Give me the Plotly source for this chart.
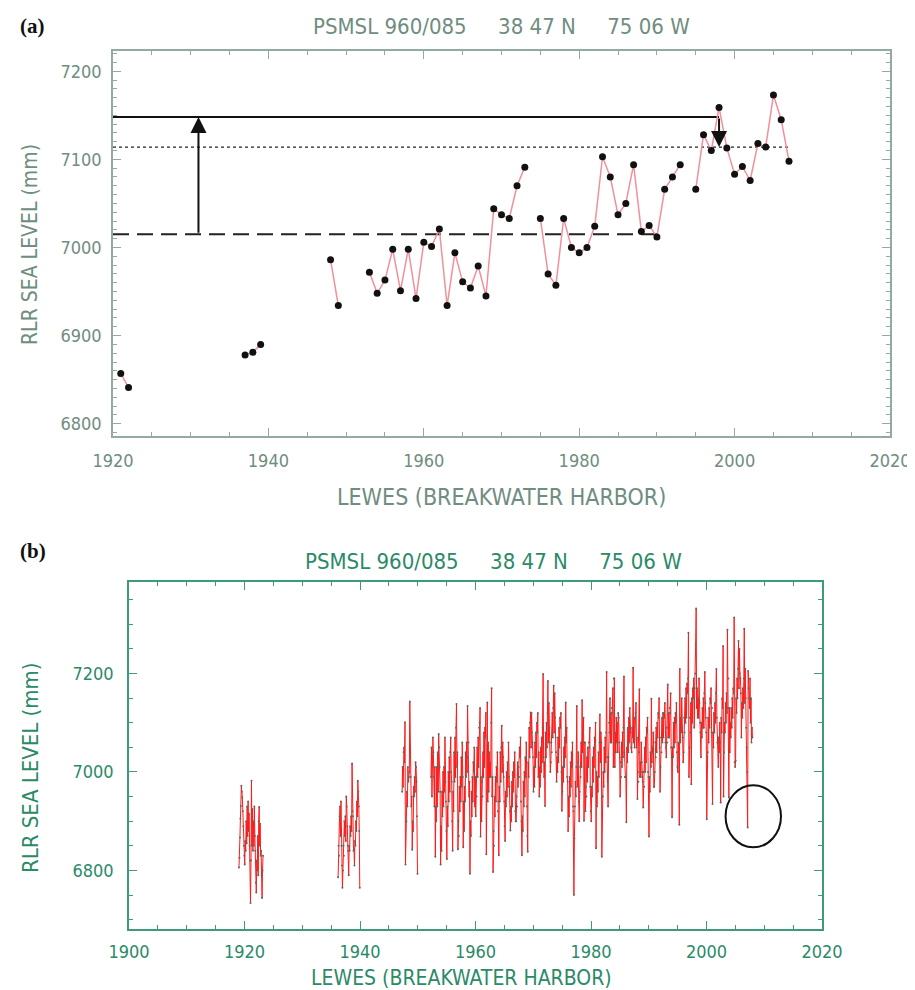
import plotly.graph_objects as go

# ---------------- Panel (a): annual mean sea level (mm) ----------------
annual_years = [1921, 1922, 1937, 1938, 1939, 1948, 1949,
                1953, 1954, 1955, 1956, 1957, 1958, 1959, 1960, 1961, 1962,
                1963, 1964, 1965, 1966, 1967, 1968, 1969, 1970, 1971, 1972, 1973,
                1975, 1976, 1977, 1978, 1979, 1980, 1981, 1982, 1983, 1984,
                1985, 1986, 1987, 1988, 1989, 1990, 1991, 1992, 1993,
                1995, 1996, 1997, 1998, 1999, 2000, 2001, 2002, 2003, 2004,
                2005, 2006, 2007]
annual_mm = [6857, 6841, 6878, 6881, 6890, 6986, 6934,
             6972, 6948, 6963, 6998, 6951, 6998, 6942, 7006, 7001, 7021,
             6934, 6994, 6961, 6954, 6979, 6945, 7044, 7037, 7033, 7070, 7091,
             7033, 6970, 6957, 7033, 7000, 6994, 7000, 7024, 7103, 7080,
             7037, 7050, 7094, 7018, 7025, 7012, 7066, 7080, 7094,
             7066, 7128, 7110, 7159, 7113, 7083, 7092, 7076, 7118, 7114,
             7173, 7145, 7098]

# reference levels drawn in panel (a)
dashed_level, dashed_end = 7015, 1990
solid_level, solid_end = 7148, 1998
dotted_level, dotted_end = 7114, 2007
up_arrow_year = 1931
down_arrow_year = 1998

# ---------------- Panel (b): monthly mean sea level (mm) ----------------
seg1_start = (1919, 1)
monthly_1919_1923 = [
    6806, 6826, 6867, 6905, 6931, 6972, 6960, 6948, 6920, 6890, 6850, 6830,
    6812, 6860, 6840, 6900, 6855, 6930, 6870, 6940, 6880, 6915, 6850, 6820,
    6734, 6820, 6982, 6850, 6925, 6840, 6900, 6850, 6930, 6870, 6840, 6775,
    6755, 6820, 6800, 6870, 6790, 6900, 6929, 6850, 6895, 6830, 6840, 6790,
    6744, 6800, 6830]
seg2_start = (1936, 3)
monthly_1936_1939 = [
    6786, 6850, 6830, 6910, 6930, 6870, 6940, 6850, 6810, 6765,
    6800, 6850, 6830, 6900, 6870, 6910, 6860, 6950, 6930, 6890, 6850, 6840,
    6790, 6850, 6840, 6890, 6870, 6910, 6880, 7017, 6920, 6910, 6840, 6845,
    6810, 6860, 6850, 6900, 6880, 6940, 6910, 6982, 6960, 6930, 6880, 6765]
seg3_start = (1947, 4)
monthly_1947_1949 = [
    6960, 7010, 6970, 7040, 7050, 7020, 7101, 6812, 6900,
    6900, 6960, 6930, 7010, 6980, 6990, 7000, 7143, 7030, 6990, 6930, 6950,
    6842, 6900, 6880, 6970, 6950, 6990, 6960, 7020, 7010, 6980, 6910, 6793]
seg4_start = (1952, 4)
monthly_1952_1959 = [
    6990, 7050, 6950, 7030, 7070, 7040, 6990, 6930, 7010,
    6828, 6930, 6900, 7010, 6930, 7040, 6960, 7077, 7050, 7010, 6960, 6812,
    6890, 6840, 6960, 6910, 7000, 6930, 7010, 6960, 7070, 6980, 6940, 6880,
    6823, 6930, 6890, 7000, 6940, 7030, 6960, 7040, 7070, 7000, 6980, 6900,
    6840, 6960, 6920, 7040, 6980, 7070, 6990, 7090, 7138, 7010, 7040, 6843,
    6900, 6870, 6970, 6920, 6990, 6940, 7030, 6970, 7060, 6990, 6847, 6940,
    6880, 6970, 6940, 7040, 6990, 7060, 7000, 7134, 7030, 7060, 6950, 6980,
    6793, 6900, 6870, 6960, 6910, 6990, 6940, 7020, 7000, 7050, 6930, 6990]
monthly_1960_1969 = [
    6910, 6990, 6950, 7050, 6990, 7070, 7010, 7090, 7100, 7130, 6869, 6990,
    6900, 6980, 6950, 7040, 6990, 7080, 7010, 7090, 7070, 7120, 6833, 6960,
    7141, 6940, 7060, 6960, 7040, 6990, 7020, 6990, 7100, 7170, 6950, 6990,
    6797, 6880, 6850, 6950, 6910, 6990, 6940, 7010, 6980, 7040, 6920, 6940,
    6831, 6970, 6940, 7040, 6980, 7050, 7094, 7000, 7060, 7030, 6990, 6940,
    6890, 6860, 6960, 6930, 7000, 6950, 7020, 6970, 7060, 6990, 6970, 6920,
    6881, 6930, 6900, 6980, 6930, 7000, 6960, 7020, 6990, 7040, 6920, 6900,
    6900, 6950, 6930, 7020, 6970, 7010, 6990, 7050, 7030, 7070, 6940, 6900,
    6831, 6910, 6880, 6980, 6930, 7000, 6950, 7030, 6990, 7060, 6930, 6870,
    6838, 7020, 6990, 7090, 7030, 7100, 7121, 7050, 7120, 7080, 7060, 7030]
monthly_1970_1979 = [
    6960, 7010, 6970, 7060, 7010, 7080, 7030, 7100, 7080, 7120, 6990, 7040,
    6950, 7010, 6970, 7050, 7000, 7070, 7020, 7090, 7199, 7030, 6990, 7020,
    6931, 7080, 7030, 7100, 7050, 7120, 7185, 7060, 7140, 7090, 7060, 7000,
    7020, 7060, 7040, 7120, 7070, 7130, 7175, 7080, 7160, 7110, 7070, 7040,
    6980, 7030, 7000, 7070, 7020, 7090, 7050, 7110, 7090, 7120, 7000, 6921,
    6960, 7010, 6980, 7050, 7010, 7070, 7030, 7141, 7060, 7090, 6990, 6980,
    6880, 6950, 6910, 6990, 6950, 7020, 6970, 7040, 7010, 7060, 6930, 6920,
    6750, 6865, 6930, 6980, 6950, 7010, 7134, 6970, 7020, 7040, 6940, 6900,
    6960, 7010, 6990, 7060, 7010, 7146, 7040, 7080, 7110, 6901, 7060, 7060,
    6920, 6970, 6950, 7030, 6980, 7050, 7010, 7060, 7050, 7090, 6970, 6920]
monthly_1980_1989 = [
    6900, 6970, 6950, 7030, 6980, 7050, 7010, 7070, 7060, 7100, 6845, 7000,
    6930, 6990, 6960, 7040, 6990, 7060, 7117, 7020, 7080, 7060, 6828, 6950,
    6950, 7000, 6970, 7050, 7000, 7070, 7020, 7080, 7203, 7030, 6980, 6930,
    7030, 7100, 7080, 7150, 7060, 7120, 7060, 7130, 7120, 7170, 7010, 7190,
    7190, 7010, 7080, 7040, 7110, 7060, 7100, 7040, 7120, 7110, 7060, 7030,
    6950, 7020, 6990, 7060, 7010, 7080, 7030, 7090, 7194, 7040, 6990, 6990,
    6990, 6898, 7050, 7020, 7090, 7040, 7110, 7060, 7130, 7090, 7080, 7050,
    7040, 7090, 7070, 7212, 7060, 7110, 7050, 7110, 7120, 7140, 7050, 7070,
    6945, 7000, 6980, 7040, 7168, 6990, 7020, 6990, 7060, 7020, 7000, 6980,
    6928, 7000, 6970, 7050, 7000, 7070, 7020, 7090, 7080, 7110, 7000, 6990]
monthly_1990_1999 = [
    6869, 6990, 6960, 7040, 7010, 7149, 7020, 7050, 7040, 7080, 6970, 6970,
    7000, 7060, 7030, 7090, 7040, 7100, 7070, 7120, 7110, 7150, 7050, 6960,
    7010, 7070, 7040, 7110, 7060, 7120, 7070, 7120, 7110, 7140, 7060, 7050,
    7030, 7090, 7060, 7178, 7070, 7120, 7070, 7130, 7120, 7160, 7050, 7030,
    6908, 7050, 7030, 7100, 7050, 7110, 7060, 7120, 7100, 7140, 7040, 7010,
    7000, 7060, 7030, 6893, 7209, 7060, 7110, 7080, 7150, 7090, 7070, 7020,
    7040, 7110, 7080, 7150, 7100, 7170, 7110, 7180, 7160, 7190, 7283, 6990,
    7050, 7110, 7080, 7140, 6975, 7150, 7100, 7170, 7150, 7190, 7090, 7170,
    7200, 7260, 7332, 7130, 7170, 7110, 7150, 7110, 7190, 7140, 7100, 7080,
    7030, 7100, 7070, 7130, 7090, 7150, 7090, 7160, 7203, 7140, 7110, 7080]
monthly_2000_2007 = [
    6904, 7030, 7040, 7110, 7060, 7130, 7090, 7150, 7140, 7170, 7080, 7130,
    6935, 7080, 7050, 7120, 7080, 7140, 7100, 7160, 7209, 7110, 7060, 7070,
    7010, 7070, 7040, 7100, 7060, 6938, 7110, 7080, 7150, 7130, 7256, 6950,
    7040, 7100, 7080, 7140, 7100, 7160, 7120, 7289, 7130, 7190, 6948, 7130,
    7040, 7100, 7070, 7130, 7090, 7150, 7110, 7170, 7160, 7314, 7020, 7010,
    7023, 7150, 7120, 7190, 7150, 7210, 7266, 7170, 7250, 7200, 7190, 7160,
    7070, 7140, 7110, 7170, 7130, 7190, 7291, 7140, 7210, 7150, 7090, 7050,
    7000, 6887, 7205, 7170, 7150, 7130, 7190, 7100, 7150, 7060, 7090, 7070]

# highlighted anomaly (circled) in panel (b)
circle_x = [2003.3, 2012.9]
circle_y = [6847, 6973]

SP = "\u00a0" * 5
title_text = "PSMSL 960/085" + SP + "38 47 N" + SP + "75 06 W"
ytitle_text = "RLR SEA LEVEL (mm)"
xtitle_text = "LEWES (BREAKWATER HARBOR)"

# ---------------- build ----------------
W, H = 915, 990
FONT = "Liberation Sans Narrow, DejaVu Sans Condensed, Arial Narrow, sans-serif"
A_TEXT = "#6f8d80"
A_FRAME = "#93aa9f"
B_TEXT = "#2b8a68"
B_FRAME = "#3e9b7a"


def month_times(start, n):
    y0, m0 = start
    return [y0 + (m0 - 1 + i + 0.5) / 12.0 for i in range(n)]


fig = go.Figure()

# panel (a) annual series with breaks at missing years
xa, ya = [], []
for i, (yr, v) in enumerate(zip(annual_years, annual_mm)):
    if i > 0 and yr - annual_years[i - 1] > 1:
        xa.append(None)
        ya.append(None)
    xa.append(yr)
    ya.append(v)

fig.add_trace(go.Scatter(x=[1920, dashed_end], y=[dashed_level] * 2, mode="lines",
                         line=dict(color="#222222", width=2, dash="16px,8px"),
                         xaxis="x", yaxis="y", hoverinfo="skip"))
fig.add_trace(go.Scatter(x=[1920, solid_end], y=[solid_level] * 2, mode="lines",
                         line=dict(color="#111111", width=2),
                         xaxis="x", yaxis="y", hoverinfo="skip"))
fig.add_trace(go.Scatter(x=[1920, dotted_end], y=[dotted_level] * 2, mode="lines",
                         line=dict(color="#222222", width=1.3, dash="dot"),
                         xaxis="x", yaxis="y", hoverinfo="skip"))
fig.add_trace(go.Scatter(x=xa, y=ya, mode="lines+markers", connectgaps=False,
                         line=dict(color="#f2909a", width=1.5),
                         marker=dict(color="#111111", size=7),
                         xaxis="x", yaxis="y"))

# panel (b) monthly series
segments = [
    (seg1_start, monthly_1919_1923),
    (seg2_start, monthly_1936_1939),
    (seg3_start, monthly_1947_1949),
    (seg4_start, monthly_1952_1959 + monthly_1960_1969 + monthly_1970_1979
     + monthly_1980_1989 + monthly_1990_1999 + monthly_2000_2007),
]
for start, vals in segments:
    fig.add_trace(go.Scatter(x=month_times(start, len(vals)), y=vals,
                             mode="lines+markers",
                             line=dict(color="#ff1a1a", width=1),
                             marker=dict(color="#5a6a60", size=2),
                             xaxis="x2", yaxis="y2"))

annotations = [
    # arrows in panel (a)
    dict(x=up_arrow_year, y=solid_level, ax=up_arrow_year, ay=dashed_level,
         xref="x", yref="y", axref="x", ayref="y", showarrow=True,
         arrowhead=2, arrowsize=1.6, arrowwidth=2, arrowcolor="#111111", text=""),
    dict(x=down_arrow_year, y=dotted_level, ax=down_arrow_year, ay=solid_level,
         xref="x", yref="y", axref="x", ayref="y", showarrow=True,
         arrowhead=2, arrowsize=1.6, arrowwidth=2, arrowcolor="#111111", text=""),
    # panel labels
    dict(x=10 / W, y=1 - 18 / H, xref="paper", yref="paper", text="<b>(a)</b>",
         showarrow=False, xanchor="left", yanchor="middle",
         font=dict(family="Liberation Serif, DejaVu Serif, serif", size=21, color="#111111")),
    dict(x=10 / W, y=1 - 543 / H, xref="paper", yref="paper", text="<b>(b)</b>",
         showarrow=False, xanchor="left", yanchor="middle",
         font=dict(family="Liberation Serif, DejaVu Serif, serif", size=21, color="#111111")),
    # titles
    dict(x=493 / W, y=1 - 18 / H, xref="paper", yref="paper", text=title_text,
         showarrow=False, xanchor="center", yanchor="middle",
         font=dict(family=FONT, size=22, color=A_TEXT)),
    dict(x=485 / W, y=1 - 553 / H, xref="paper", yref="paper", text=title_text,
         showarrow=False, xanchor="center", yanchor="middle",
         font=dict(family=FONT, size=22, color=B_TEXT)),
    # axis titles
    dict(x=22 / W, y=1 - 237 / H, xref="paper", yref="paper", text=ytitle_text,
         showarrow=False, textangle=-90, xanchor="center", yanchor="middle",
         font=dict(family=FONT, size=21, color=A_TEXT)),
    dict(x=493 / W, y=1 - 489 / H, xref="paper", yref="paper", text=xtitle_text,
         showarrow=False, xanchor="center", yanchor="middle",
         font=dict(family=FONT, size=23, color=A_TEXT)),
    dict(x=22 / W, y=1 - 760 / H, xref="paper", yref="paper", text=ytitle_text,
         showarrow=False, textangle=-90, xanchor="center", yanchor="middle",
         font=dict(family=FONT, size=22, color=B_TEXT)),
    dict(x=453 / W, y=1 - 970 / H, xref="paper", yref="paper", text=xtitle_text,
         showarrow=False, xanchor="center", yanchor="middle", borderpad=0,
         font=dict(family=FONT, size=21, color=B_TEXT)),
]

shapes = [
    dict(type="circle", xref="x2", yref="y2", x0=circle_x[0], x1=circle_x[1],
         y0=circle_y[0], y1=circle_y[1], line=dict(color="#111111", width=2)),
]


def axis_style(color, tcolor, dtick, minor_dtick, rng, domain, anchor, standoff):
    return dict(domain=domain, range=rng, anchor=anchor, dtick=dtick,
                automargin=False,
                showline=True, linecolor=color, linewidth=1.5, mirror="ticks",
                ticks="inside", ticklen=8, tickwidth=1.2, tickcolor=color,
                minor=dict(dtick=minor_dtick, ticks="inside", ticklen=4,
                           tickwidth=1, tickcolor=color, showgrid=False),
                showgrid=False, zeroline=False,
                tickfont=dict(family=FONT, size=18, color=tcolor),
                ticklabelstandoff=standoff, fixedrange=True)


fig.update_layout(
    width=W, height=H, margin=dict(l=0, r=0, t=0, b=0, autoexpand=False),
    paper_bgcolor="white", plot_bgcolor="white", showlegend=False,
    xaxis=axis_style(A_FRAME, A_TEXT, 20, 5, [1920, 2020],
                     [105 / W, 882 / W], "y", 8),
    yaxis=axis_style(A_FRAME, A_TEXT, 100, 10, [6786, 7223],
                     [1 - 428 / H, 1 - 43 / H], "x", 6),
    xaxis2=axis_style(B_FRAME, B_TEXT, 20, 5, [1900, 2020],
                      [121 / W, 814 / W], "y2", 6),
    yaxis2=axis_style(B_FRAME, B_TEXT, 200, 50, [6681, 7386],
                      [1 - 921 / H, 1 - 574 / H], "x2", 10),
    annotations=annotations, shapes=shapes,
)
fig.update_xaxes(tickformat="d")
fig.update_yaxes(tickformat="d")

fig.write_html("out.html")
